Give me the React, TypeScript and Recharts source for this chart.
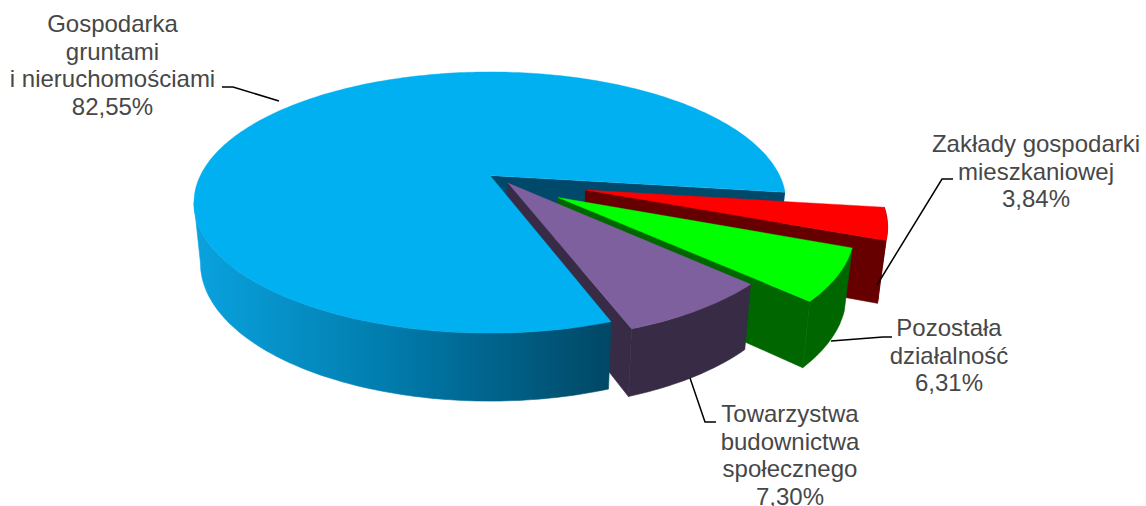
import React from "react";
import { PieChart, Pie } from "recharts";

const categories = [
  ["Zakłady gospodarki", "mieszkaniowej"],
  ["Pozostała", "działalność"],
  ["Towarzystwa", "budownictwa", "społecznego"],
  ["Gospodarka", "gruntami", "i nieruchomościami"],
];
const shares = [3.84, 6.31, 7.3, 82.55];

const data = categories.map((lines, i) => ({ name: lines.join(" "), value: shares[i] }));

// look of each slice, same order as the data
const topColors = ["#ff0000", "#00ff00", "#7f609e", "#00b0f0"];
const wallColors = ["#660000", "#006600", "#372b45", "url(#blueWall)"];
const cutColors = ["#660000", "#006600", "#372b45", "#00496a"];
const explodeX = [0.322, 0.227, 0.0615, 0];
const explodeY = [0.113, 0.17, 0.06, 0];
const radiusScale = [0.98, 0.955, 0.975, 1];

// label placement: centre x, first baseline, leader line
const labelX = [1036, 949, 790, 112.5];
const labelY = [152, 336, 422, 32];
const leaders = [
  "953,179 942,179 877,285",
  "892,337 883,337 831,341",
  "716,422 705,422 690,378",
  "222,87 233,87 279,101",
];

const CX = 490;
const CY = 175.5;
const RX = 289.6;
const RY = 125;
const K = 0.207; // perspective of the disc

const rad = (d: number) => (d * Math.PI) / 180;

const project = (x: number, y: number, cx: number, cy: number, rx: number) => {
  const w = 1 / (1 - K * y);
  return [cx + rx * x * w, cy + (rx * RY * y * w) / RX];
};

// the same point on the lower face of the disc
const drop = (p: number[], cx: number) => [cx + (p[0] - cx) * 0.978, p[1] + 63 + 0.055 * (p[1] - 243)];

const fmt = (p: number[]) => `${p[0].toFixed(1)} ${p[1].toFixed(1)}`;
const pathOf = (pts: number[][]) => "M" + pts.map(fmt).join("L") + "Z";

const Slice = (props: any) => {
  const { cx, cy, outerRadius, startAngle, endAngle, index } = props;
  const a0 = -startAngle;
  const a1 = -endAngle;
  const ox = explodeX[index];
  const oy = explodeY[index];
  const r = radiusScale[index];
  const apex = project(ox, oy, cx, cy, outerRadius);
  const at = (deg: number) =>
    project(r * Math.cos(rad(deg)) + ox, r * Math.sin(rad(deg)) + oy, cx, cy, outerRadius);
  const arc = (from: number, to: number) => {
    const n = Math.max(2, Math.ceil(Math.abs(to - from)));
    const pts: number[][] = [];
    for (let i = 0; i <= n; i++) pts.push(at(from + ((to - from) * i) / n));
    return pts;
  };

  const isBig = index === 3;
  const o = at(a1);
  const rim = arc(a0, isBig ? Math.min(a1, 168) : a1);
  const wall = [...rim, ...rim.map((p) => drop(p, cx)).reverse()];

  // the big slice's cut face sits behind everything, so the first slice paints it
  let backCut = null;
  if (index === 0) {
    const bigApex = project(0, 0, cx, cy, outerRadius);
    const bigEdge = project(Math.cos(rad(a0)), Math.sin(rad(a0)), cx, cy, outerRadius);
    backCut = (
      <path d={pathOf([bigApex, bigEdge, drop(bigEdge, cx), drop(bigApex, cx)])} fill={cutColors[3]} />
    );
  }

  return (
    <g>
      <defs>
        <linearGradient id="blueWall" gradientUnits="userSpaceOnUse" x1="196" y1="0" x2="608" y2="0">
          <stop offset="0" stopColor="#0aa2de" />
          <stop offset="0.5" stopColor="#0079a9" />
          <stop offset="1" stopColor="#004866" />
        </linearGradient>
      </defs>
      {backCut}
      {!isBig && (
        <path
          d={pathOf([apex, o, drop(o, cx), drop(apex, cx)])}
          fill={cutColors[index]}
          stroke={cutColors[index]}
          strokeWidth={0.6}
        />
      )}
      <path d={pathOf(wall)} fill={wallColors[index]} stroke={wallColors[index]} strokeWidth={0.6} />
      <path d={pathOf([apex, ...arc(a0, a1)])} fill={topColors[index]} stroke={topColors[index]} strokeWidth={0.4} />
    </g>
  );
};

const SliceLabel = (props: any) => {
  const { index } = props;
  const lines = [...categories[index], shares[index].toFixed(2).replace(".", ",") + "%"];
  return (
    <g>
      <polyline points={leaders[index]} fill="none" stroke="#000" strokeWidth={1.5} />
      <text
        x={labelX[index]}
        y={labelY[index]}
        textAnchor="middle"
        fontFamily="Liberation Sans"
        fontSize={24}
        fill="#474747"
      >
        {lines.map((l, i) => (
          <tspan key={i} x={labelX[index]} y={labelY[index] + i * 27.5}>
            {l}
          </tspan>
        ))}
      </text>
    </g>
  );
};

export default function App() {
  return (
    <div style={{ position: "absolute", left: 0, top: 0, width: 1146, height: 506, overflow: "hidden" }}>
      <PieChart width={1146} height={506} margin={{ top: 0, right: 0, bottom: 0, left: 0 }}>
        <Pie
          data={data}
          dataKey="value"
          cx={CX}
          cy={CY}
          outerRadius={RX}
          startAngle={-7.5}
          endAngle={-367.5}
          stroke="none"
          isAnimationActive={false}
          shape={Slice}
          label={SliceLabel}
          labelLine={false}
        />
      </PieChart>
    </div>
  );
}
